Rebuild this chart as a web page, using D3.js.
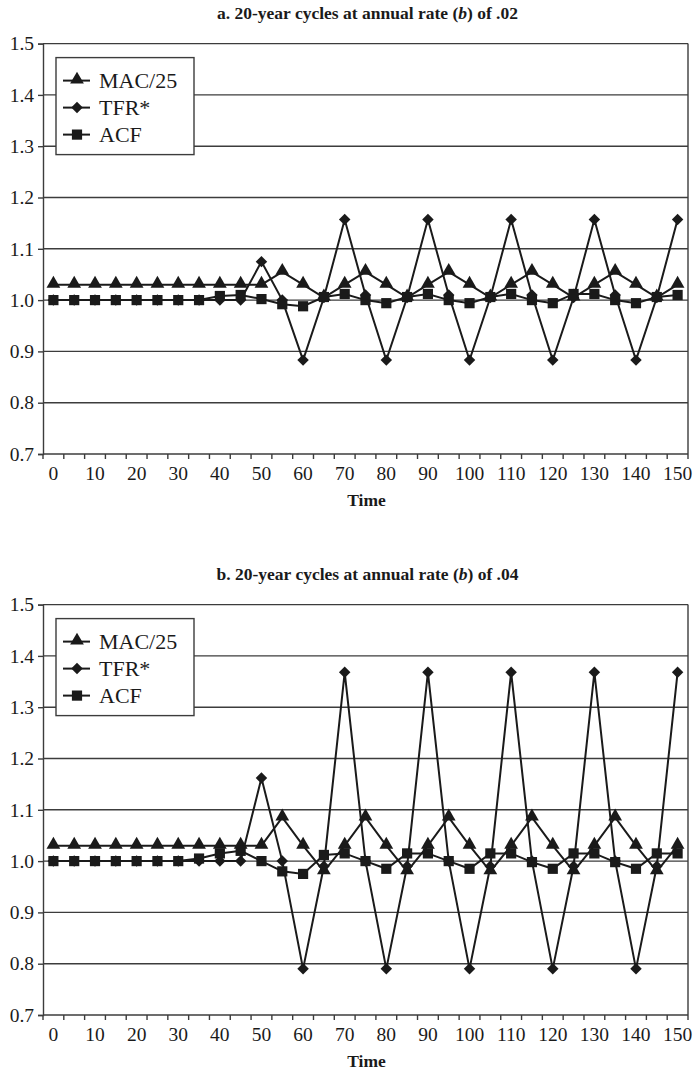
<!DOCTYPE html>
<html>
<head>
<meta charset="utf-8">
<script src="https://cdn.jsdelivr.net/npm/d3@7"></script>
<style>
  html, body { margin: 0; padding: 0; background: #fff; }
  svg { display: block; }
  text { font-family: "Liberation Serif", "Times New Roman", serif; fill: #1a1a1a; }
</style>
</head>
<body>
<svg id="chart" width="696" height="1077" font-family="Liberation Serif, serif"></svg>
<script>
// ---------- data ----------
const years = [0,5,10,15,20,25,30,35,40,45,50,55,60,65,70,75,80,85,90,95,100,105,110,115,120,125,130,135,140,145,150];
const xTickLabels = [0,10,20,30,40,50,60,70,80,90,100,110,120,130,140,150];
const yTicks = [0.7,0.8,0.9,1.0,1.1,1.2,1.3,1.4,1.5];
const seriesNames = ["MAC/25", "TFR*", "ACF"];
const titleA = "a. 20-year cycles at annual rate (";
const titleB = "b. 20-year cycles at annual rate (";

// panel a (b = .02)
const macA = [1.03,1.03,1.03,1.03,1.03,1.03,1.03,1.03,1.03,1.03,1.03,
              1.055,1.03,1.005,1.03,1.055,1.03,1.005,1.03,1.055,1.03,1.005,1.03,1.055,1.03,1.005,1.03,1.055,1.03,1.005,1.03];
const tfrA = [1.0,1.0,1.0,1.0,1.0,1.0,1.0,1.0,1.0,1.0,1.075,
              1.0,0.883,1.005,1.157,1.01,0.883,1.005,1.157,1.01,0.883,1.005,1.157,1.01,0.883,1.005,1.157,1.01,0.883,1.005,1.157];
const acfA = [1.0,1.0,1.0,1.0,1.0,1.0,1.0,1.0,1.008,1.01,1.002,
              0.992,0.988,1.006,1.012,1.0,0.994,1.006,1.012,1.0,0.994,1.006,1.012,1.0,0.994,1.012,1.012,1.0,0.994,1.006,1.01];

// panel b (b = .04)
const macB = [1.03,1.03,1.03,1.03,1.03,1.03,1.03,1.03,1.03,1.03,1.03,
              1.085,1.03,0.98,1.03,1.085,1.03,0.98,1.03,1.085,1.03,0.98,1.03,1.085,1.03,0.98,1.03,1.085,1.03,0.98,1.03];
const tfrB = [1.0,1.0,1.0,1.0,1.0,1.0,1.0,1.0,1.0,1.0,1.162,
              1.0,0.79,0.99,1.368,1.0,0.79,0.99,1.368,1.0,0.79,0.99,1.368,1.0,0.79,0.99,1.368,1.0,0.79,0.99,1.368];
const acfB = [1.0,1.0,1.0,1.0,1.0,1.0,1.0,1.005,1.015,1.02,1.0,
              0.98,0.975,1.012,1.015,1.0,0.985,1.015,1.015,1.0,0.985,1.015,1.015,0.998,0.985,1.015,1.015,0.998,0.985,1.015,1.015];

// ---------- drawing ----------
const svg = d3.select("#chart");
const INK = "#1a1a1a";
const GRID = "#3c3c3c";
const SERIF = "'Liberation Serif', 'Times New Roman', serif";

const plotLeft = 43, plotRight = 688;

const symbols = {
  "MAC/25": d3.symbol().type(d3.symbolTriangle).size(82),
  "TFR*":   d3.symbol().type(d3.symbolSquare).size(66),
  "ACF":    d3.symbol().type(d3.symbolSquare).size(104)
};
const rot = { "MAC/25": 0, "TFR*": 45, "ACF": 0 };

function drawPanel(top, bottom, titleStart, rateLabel, mac, tfr, acf) {
  const g = svg.append("g");
  const x = d3.scaleBand().domain(years).range([plotLeft, plotRight]).padding(0);
  const cx = d => x(d) + x.bandwidth() / 2;
  const y = d3.scaleLinear().domain([0.7, 1.5]).range([bottom, top]);

  // title
  const t = g.append("text")
    .attr("x", (plotLeft + plotRight) / 2 + 2)
    .attr("y", top - 25)
    .attr("text-anchor", "middle")
    .style("font-family", SERIF)
    .style("font-size", "17.5px")
    .style("font-weight", "bold");
  t.append("tspan").text(titleStart);
  t.append("tspan").style("font-style", "italic").text("b");
  t.append("tspan").text(") of " + rateLabel);

  // gridlines
  g.append("g").selectAll("line").data(yTicks.filter(v => v > 0.7))
    .join("line")
    .attr("x1", plotLeft).attr("x2", plotRight)
    .attr("y1", d => y(d)).attr("y2", d => y(d))
    .attr("stroke", GRID).attr("stroke-width", 1.4);

  // right border
  g.append("line")
    .attr("x1", plotRight).attr("x2", plotRight)
    .attr("y1", y(1.5)).attr("y2", y(0.7))
    .attr("stroke", GRID).attr("stroke-width", 1.4);

  // y axis
  const ya = g.append("g")
    .attr("transform", `translate(${plotLeft},0)`)
    .call(d3.axisLeft(y).tickValues(yTicks).tickFormat(d3.format(".1f")).tickSize(5).tickPadding(4));
  ya.attr("font-family", null);
  ya.select(".domain").attr("stroke", GRID).attr("stroke-width", 1.4);
  ya.selectAll(".tick line").attr("stroke", GRID).attr("stroke-width", 1.4);
  ya.selectAll(".tick text").style("font-size", "19.5px").attr("fill", INK)
    .style("font-family", SERIF);

  // x axis: labels at category centres, ticks at category edges
  const xa = g.append("g")
    .attr("transform", `translate(0,${bottom})`)
    .call(d3.axisBottom(x).tickValues(xTickLabels).tickSize(0).tickPadding(12));
  xa.attr("font-family", null);
  xa.select(".domain").remove();
  xa.selectAll(".tick text").style("font-size", "19.5px").attr("fill", INK)
    .style("font-family", SERIF);
  const edges = years.map(d => x(d)).concat([plotRight]);
  g.append("g").selectAll("line").data(edges).join("line")
    .attr("x1", d => d).attr("x2", d => d)
    .attr("y1", bottom).attr("y2", bottom + 5)
    .attr("stroke", GRID).attr("stroke-width", 1.4);
  g.append("line")
    .attr("x1", plotLeft).attr("x2", plotRight)
    .attr("y1", bottom).attr("y2", bottom)
    .attr("stroke", GRID).attr("stroke-width", 1.6);

  // x axis title
  g.append("text")
    .attr("x", (plotLeft + plotRight) / 2 + 1)
    .attr("y", bottom + 52)
    .attr("text-anchor", "middle")
    .style("font-family", SERIF)
    .style("font-size", "17.5px")
    .style("font-weight", "bold")
    .text("Time");

  // series
  const data = { "MAC/25": mac, "TFR*": tfr, "ACF": acf };
  const line = d3.line().x((v, i) => cx(years[i])).y(v => y(v));
  seriesNames.forEach(name => {
    const vals = data[name];
    g.append("path").datum(vals)
      .attr("d", line)
      .attr("fill", "none")
      .attr("stroke", INK)
      .attr("stroke-width", 2);
    g.append("g").selectAll("path").data(vals).join("path")
      .attr("d", symbols[name])
      .attr("transform", (v, i) => `translate(${cx(years[i])},${y(v) + (name === "MAC/25" ? -1 : 0)}) rotate(${rot[name]})`)
      .attr("fill", INK);
  });

  // legend
  const lgTop = top + 14;
  const lg = g.append("g");
  lg.append("rect")
    .attr("x", 56).attr("y", lgTop)
    .attr("width", 138).attr("height", 97)
    .attr("fill", "#fff").attr("stroke", GRID).attr("stroke-width", 1.4);
  seriesNames.forEach((name, i) => {
    const ly = lgTop + 23 + i * 27;
    lg.append("line").attr("x1", 63).attr("x2", 90).attr("y1", ly).attr("y2", ly)
      .attr("stroke", INK).attr("stroke-width", 2);
    lg.append("path").attr("d", symbols[name])
      .attr("transform", `translate(77,${ly + (name === "MAC/25" ? -1 : 0)}) rotate(${rot[name]})`)
      .attr("fill", INK);
    lg.append("text").attr("x", 99).attr("y", ly + 7)
      .style("font-family", SERIF)
      .style("font-size", "22px").text(name);
  });
}

drawPanel(43.6, 454, titleA, ".02", macA, tfrA, acfA);
drawPanel(604.6, 1015, titleB, ".04", macB, tfrB, acfB);
</script>
</body>
</html>
